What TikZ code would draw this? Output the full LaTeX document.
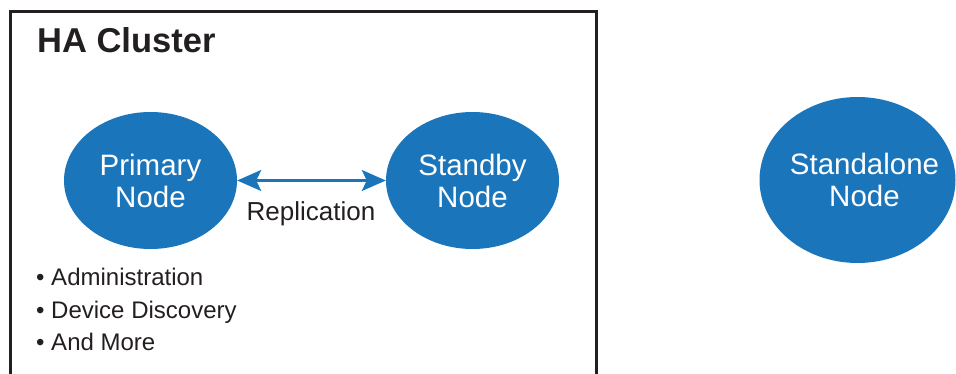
\documentclass[tikz,border=0pt]{standalone}
\usepackage{fontspec}
\setmainfont{Liberation Sans}
\usetikzlibrary{shapes.geometric,arrows.meta}
\definecolor{nodeblue}{RGB}{27,117,187}
\definecolor{inkdark}{RGB}{35,31,32}
\tikzset{
  bluenode/.style={ellipse, fill=nodeblue, draw=none, inner sep=0pt, text=white,
    align=center, font=\fontsize{29.5}{32}\selectfont},
  whitetext/.style={inner sep=0pt, text=white, align=center, font=\fontsize{29.5}{32}\selectfont},
  bullettext/.style={anchor=base west, inner sep=0pt, text=inkdark,
    font=\fontsize{24}{28}\selectfont},
  repl/.style={<->, >={Stealth[length=24pt,width=21pt,inset=5pt]}, draw=nodeblue, line width=2.5pt}
}
\begin{document}
\begin{tikzpicture}[x=1pt,y=-1pt]
  \useasboundingbox (0,0) rectangle (956,374);
  \clip (0,0) rectangle (956,374);
  % cluster frame (open at the bottom edge)
  \draw[inkdark, line width=3pt] (10,390) |- (596,11.5) -- (596,390);
  \node[anchor=base west, inner sep=0pt, text=inkdark,
        font=\fontsize{34.5}{40}\bfseries\selectfont] (title) at (37,53) {HA Cluster};
  % nodes
  \node[bluenode, minimum width=173pt, minimum height=137pt] (primary) at (150.5,180.5) {Primary\\Node};
  \node[bluenode, minimum width=173pt, minimum height=137pt] (standby) at (472.5,180.5) {Standby\\Node};
  \node[bluenode, minimum width=196pt, minimum height=166pt] (standalone) at (857.5,180) {};
  \node[whitetext] (standalonetext) at ([xshift=7pt]standalone.center) {Standalone\\Node};
  % replication
  \draw[repl] (primary) -- (standby);
  \node[anchor=base, inner sep=0pt, text=inkdark, font=\fontsize{26}{30}\selectfont] (rlabel) at (311,221) {Replication};
  % bullets
  \node[bullettext] (b1) at (36,285) {• Administration};
  \node[bullettext] (b2) at (36,318) {• Device Discovery};
  \node[bullettext] (b3) at (36,350) {• And More};
\end{tikzpicture}
\end{document}
